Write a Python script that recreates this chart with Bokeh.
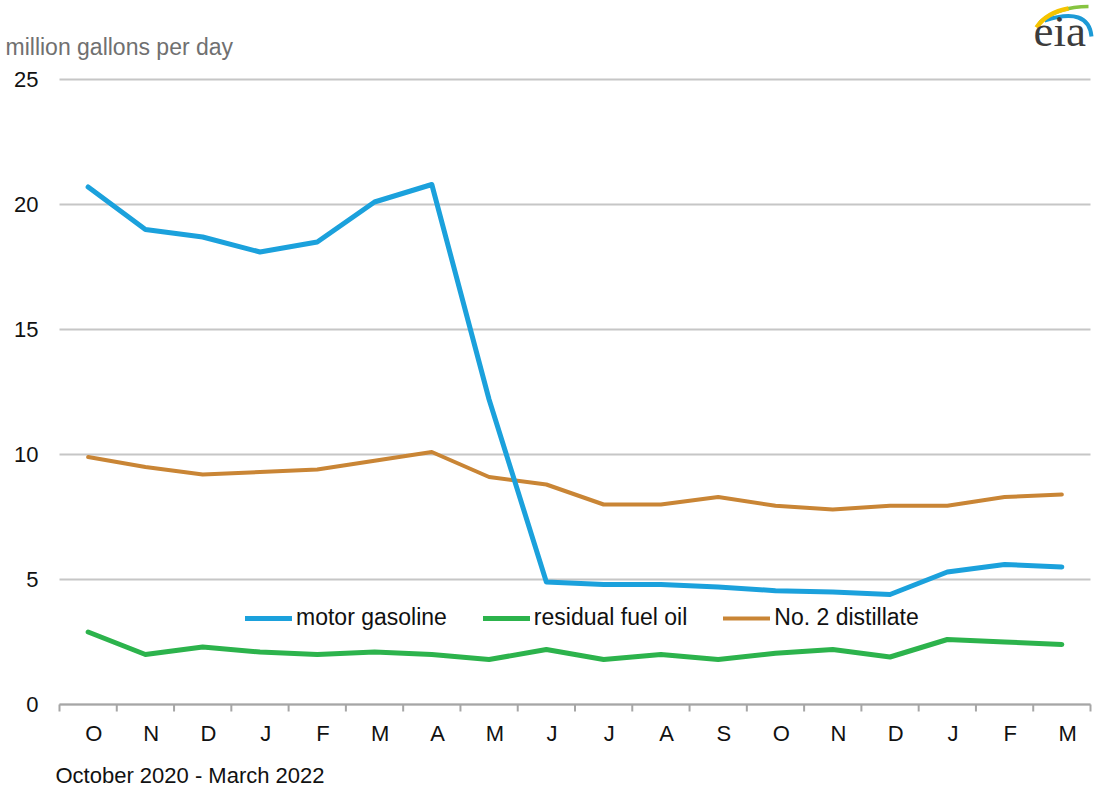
from bokeh.plotting import figure
from bokeh.models import (Range1d, Legend, LegendItem, Label, ColumnDataSource)
from bokeh.core.properties import value
from bokeh.embed import file_html
from bokeh.resources import INLINE

# ---------------- data ----------------
months = ["2020-10", "2020-11", "2020-12", "2021-01", "2021-02", "2021-03", "2021-04",
          "2021-05", "2021-06", "2021-07", "2021-08", "2021-09", "2021-10", "2021-11",
          "2021-12", "2022-01", "2022-02", "2022-03"]
tick_labels = ["O", "N", "D", "J", "F", "M", "A", "M", "J", "J", "A", "S", "O", "N", "D", "J", "F", "M"]
motor_gasoline = [20.7, 19.0, 18.7, 18.1, 18.5, 20.1, 20.8, 12.2, 4.9, 4.8, 4.8, 4.7, 4.55, 4.5, 4.4, 5.3, 5.6, 5.5]
residual_fuel_oil = [2.9, 2.0, 2.3, 2.1, 2.0, 2.1, 2.0, 1.8, 2.2, 1.8, 2.0, 1.8, 2.05, 2.2, 1.9, 2.6, 2.5, 2.4]
no2_distillate = [9.9, 9.5, 9.2, 9.3, 9.4, 9.75, 10.1, 9.1, 8.8, 8.0, 8.0, 8.3, 7.95, 7.8, 7.95, 7.95, 8.3, 8.4]
y_ticks = [0, 5, 10, 15, 20, 25]
series_names = ["motor gasoline", "residual fuel oil", "No. 2 distillate"]
y_unit = "million gallons per day"
period = "October 2020  -  March 2022"

# ---------------- styling / layout ----------------
BLUE = "#1ba1dc"
GREEN = "#2cb34c"
ORANGE = "#c98535"
GRID = "#c6c6c6"
AXIS = "#a6a6a6"
TXT = "#111111"
FONT = "Liberation Sans"
W, H = 1094, 789
ZERO_ROW = 704              # pixel row of value 0
PX_PER_UNIT = 25.0          # vertical pixels per million gallons
LEFT = 59                   # pixel column where the category axis starts
CW = 1031 / 18              # pixels per category
LABEL_SHIFT = 0.1           # month letters sit slightly right of centre
TICK_LEN = 7
MONTH_ROW = 733
PERIOD_ROW = 775

n = len(months)
xpos = [i + 0.5 for i in range(n)]                 # category centres
edges = list(range(n + 1))                          # category boundaries
src = ColumnDataSource(dict(x=xpos, month=months, gas=motor_gasoline,
                            resid=residual_fuel_oil, dist=no2_distillate))
grid_src = ColumnDataSource(dict(y=y_ticks, x0=[0] * len(y_ticks), x1=[n] * len(y_ticks),
                                 lab=[str(t) for t in y_ticks]))
month_src = ColumnDataSource(dict(x=[x + LABEL_SHIFT for x in xpos], lab=tick_labels))
edge_src = ColumnDataSource(dict(x=edges))

p = figure(width=W, height=H, title=None,
           x_range=Range1d(-LEFT / CW, (W - LEFT) / CW),
           y_range=Range1d(-(H - ZERO_ROW) / PX_PER_UNIT, ZERO_ROW / PX_PER_UNIT),
           x_axis_location=None, y_axis_location=None,
           toolbar_location=None, output_backend="svg",
           min_border_left=0, min_border_right=0, min_border_top=0, min_border_bottom=0)
p.outline_line_color = None
p.background_fill_color = "white"
p.border_fill_color = "white"
p.grid.visible = False

# pixel ranges for decorations
p.extra_x_ranges = {"px": Range1d(0, W)}
p.extra_y_ranges = {"py": Range1d(H, 0)}

# horizontal gridlines and value labels
p.segment(x0="x0", x1="x1", y0="y", y1="y", source=grid_src,
          line_color=GRID, line_width=2)
p.text(x=38, y="y", text="lab", source=grid_src, x_range_name="px",
       text_align="right", text_baseline="middle",
       text_font=value(FONT), text_font_size="22px", text_color=TXT)

# category axis: baseline, boundary ticks, month letters
p.segment(x0=0, x1=n, y0=0, y1=0, line_color=AXIS, line_width=2)
p.segment(x0="x", x1="x", y0=ZERO_ROW, y1=ZERO_ROW + TICK_LEN, source=edge_src,
          y_range_name="py", line_color=AXIS, line_width=2)
p.text(x="x", y=MONTH_ROW, text="lab", source=month_src, y_range_name="py",
       text_align="center", text_baseline="middle",
       text_font=value(FONT), text_font_size="22px", text_color=TXT)

# lines
r_dist = p.line("x", "dist", source=src, line_color=ORANGE, line_width=4,
                line_join="round", line_cap="round")
r_resid = p.line("x", "resid", source=src, line_color=GREEN, line_width=5,
                 line_join="round", line_cap="round")
r_gas = p.line("x", "gas", source=src, line_color=BLUE, line_width=5,
               line_join="round", line_cap="round")

legend = Legend(items=[LegendItem(label=series_names[0], renderers=[r_gas]),
                       LegendItem(label=series_names[1], renderers=[r_resid]),
                       LegendItem(label=series_names[2], renderers=[r_dist])],
                location=(245, H - 617 - 14), orientation="horizontal",
                border_line_color=None, background_fill_alpha=0,
                padding=0, margin=0, spacing=36, label_standoff=4,
                glyph_width=47, glyph_height=24, label_height=24,
                label_text_font_size="23px", label_text_font=FONT,
                label_text_color=TXT)
p.add_layout(legend)

# texts
p.add_layout(Label(x=5, y=46, x_range_name="px", y_range_name="py",
                   text=y_unit, text_font_size="23px",
                   text_font=FONT, text_color="#707070", text_baseline="middle"))
p.add_layout(Label(x=55, y=PERIOD_ROW, x_range_name="px", y_range_name="py",
                   text=period, text_font_size="22px",
                   text_font=FONT, text_color=TXT, text_baseline="middle"))

# eia logo
p.quadratic(x0=[1044, 1039, 1036], y0=[20, 22, 27],
            x1=[1091, 1088, 1068], y1=[36, 6, 8],
            cx=[1088, 1058, 1046], cy=[6, 6, 12],
            line_color=["#1c9ad6", "#86c440", "#f5c400"],
            line_width=[4, 3.5, 4.5],
            x_range_name="px", y_range_name="py")
p.add_layout(Label(x=1033, y=55, x_range_name="px", y_range_name="py",
                   text="eia", text_font_size="45px", text_font="Liberation Serif",
                   text_color="#3c3c3c", text_baseline="bottom"))

open("out.html", "w").write(file_html(p, INLINE))
